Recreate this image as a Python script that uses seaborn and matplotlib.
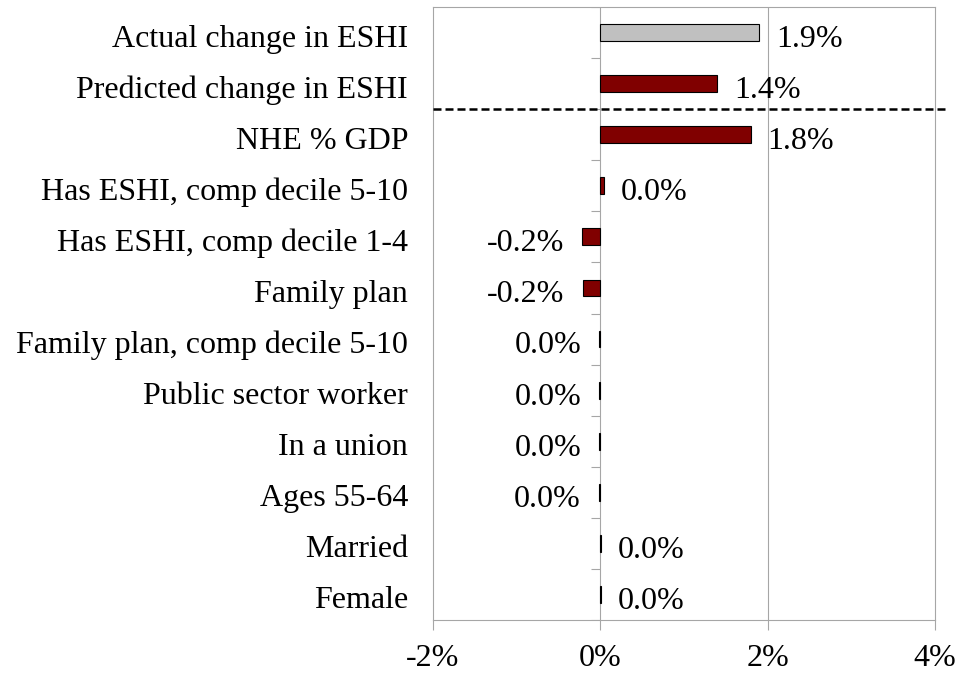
import matplotlib
matplotlib.use("Agg")
import matplotlib.pyplot as plt
import matplotlib.transforms as mtransforms
import numpy as np
import pandas as pd
import seaborn as sns

categories = ["Actual change in ESHI", "Predicted change in ESHI", "NHE % GDP",
              "Has ESHI, comp decile 5-10", "Has ESHI, comp decile 1-4", "Family plan",
              "Family plan, comp decile 5-10", "Public sector worker", "In a union",
              "Ages 55-64", "Married", "Female"]
values = [1.9, 1.4, 1.8, 0.04, -0.22, -0.21, -0.01, -0.01, -0.01, -0.02, 0.01, 0.01]
labels = ["1.9%", "1.4%", "1.8%", "0.0%", "-0.2%", "-0.2%", "0.0%", "0.0%", "0.0%",
          "0.0%", "0.0%", "0.0%"]
bar_colors = ["#C0C0C0"] + ["#800000"] * 11
xticks = [-2, 0, 2, 4]
xtick_labels = ["-2%", "0%", "2%", "4%"]

sns.set_style("white")
plt.rcParams["font.family"] = ["Liberation Serif", "DejaVu Serif"]
plt.rcParams["text.color"] = "black"
FS = 23
GRID = "#A6A6A6"

df = pd.DataFrame({"cat": categories, "val": values})

fig = plt.figure(figsize=(9.57, 6.77), dpi=100)
ax = fig.add_axes([433 / 957, 1 - 620 / 677, (935 - 433) / 957, (620 - 7) / 677])

sns.barplot(data=df, x="val", y="cat", hue="cat", palette=bar_colors, legend=False,
            orient="h", width=0.33, saturation=1, edgecolor="black", linewidth=0.8,
            ax=ax, zorder=3)

ax.set_xlim(-2, 4)
ax.set_ylim(len(categories) - 0.5, -0.5)
ax.set_xticks(xticks)
ax.set_xticklabels(xtick_labels, fontsize=FS)
ax.set_yticks(range(len(categories)))
ax.set_yticklabels(categories, fontsize=FS)
ax.set_xlabel("")
ax.set_ylabel("")
ax.tick_params(axis="y", length=0, pad=18, labelcolor="black")
ax.tick_params(axis="x", length=7, width=0.8, color=GRID, pad=10, direction="out",
               bottom=True, labelcolor="black")

# nudge category labels down a little
shift = mtransforms.ScaledTranslation(0, -3 / 100, fig.dpi_scale_trans)
for lab in ax.get_yticklabels():
    lab.set_transform(lab.get_transform() + shift)

for s in ax.spines.values():
    s.set_color(GRID)
    s.set_linewidth(0.8)

# vertical gridlines and the value axis at zero
ax.axvline(2, color=GRID, lw=0.8, zorder=1)
ax.axvline(0, color=GRID, lw=0.8, zorder=2)
# category tick marks on the zero axis
bounds = np.arange(-0.5, len(categories) + 0.5, 1.0)
ax.hlines(bounds, -0.11, 0, color=GRID, lw=0.8, zorder=2)

# dashed separator between predicted and components
ax.plot([-2, 4.13], [1.5, 1.5], color="black", lw=1.8, ls=(0, (3.2, 1.6)),
        clip_on=False, zorder=4)

# data labels
for i, (v, t) in enumerate(zip(values, labels)):
    if v >= 0:
        ax.annotate(t, (v, i), xytext=(12, -5), textcoords="offset points",
                    ha="left", va="center", fontsize=FS)
    else:
        ax.annotate(t, (v, i), xytext=(-13, -5), textcoords="offset points",
                    ha="right", va="center", fontsize=FS)

fig.savefig("out.png", dpi=100)
